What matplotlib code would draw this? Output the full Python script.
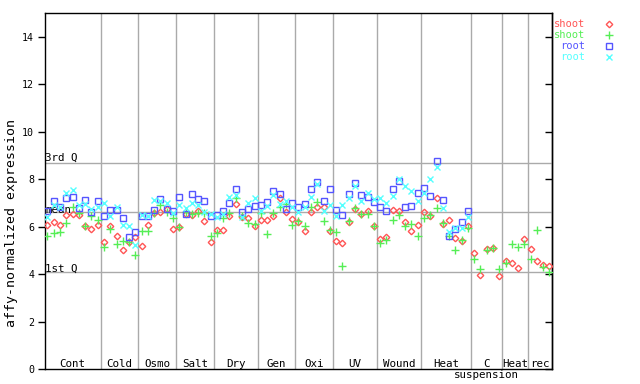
import numpy as np
import matplotlib
matplotlib.use("Agg")
import matplotlib.pyplot as plt
from matplotlib.lines import Line2D

plt.rcParams['font.family'] = ['DejaVu Sans Mono']

# groups of samples along x
groups = ['Cont', 'Cold', 'Osmo', 'Salt', 'Dry', 'Gen', 'Oxi', 'UV', 'Wound', 'Heat',
          'C\nsuspension', 'Heat', 'rec']
group_sizes = [9, 6, 6, 6, 7, 6, 6, 7, 7, 8, 5, 4, 4]

# shoot replicate 1 (red diamonds)
shoot1 = [6.08, 6.19, 6.08, 6.5, 6.54, 6.5, 6.04, 5.9, 6.08,
          5.37, 6.01, 5.61, 5.02, 5.37, 5.56,
          5.19, 6.08, 6.57, 6.6, 6.74, 5.9,
          5.98, 6.55, 6.5, 6.68, 6.22, 5.37,
          5.87, 5.87, 6.46, 6.97, 6.42, 6.36, 6.04,
          6.29, 6.29, 6.46, 7.22, 6.6, 6.32,
          6.18, 5.83, 6.6, 6.82, 6.82, 5.83,
          5.4, 5.33, 6.18, 6.74, 6.54, 6.68, 6.04,
          5.49, 5.57, 6.69, 6.67, 6.18, 5.8, 6.08,
          6.61, 6.44, 7.19, 6.11, 6.29, 5.52, 5.4, 6.02,
          4.88, 3.95, 5.08, 5.09, 3.91,
          4.56, 4.46, 4.25, 5.49,
          5.05, 4.56, 4.38, 4.35]

# shoot replicate 2 (green plus)
shoot2 = [5.61, 5.73, 5.77, 6.15, 6.85, 6.57, 6.05, 6.45, 6.29,
          5.14, 5.91, 5.28, 5.4, 5.35, 4.81,
          5.8, 5.8, 6.57, 6.92, 6.6, 6.36,
          5.98, 6.6, 6.55, 6.57, 6.57, 5.59,
          5.73, 6.36, 6.57, 7.2, 6.45, 6.15, 6.12,
          6.57, 5.7, 6.57, 6.82, 6.95, 6.08,
          6.22, 6.01, 6.82, 7.04, 6.22, 5.84,
          5.77, 4.35, 6.22, 6.78, 6.53, 6.53, 6.04,
          5.3, 5.45, 6.27, 6.48, 6.04, 6.11, 5.61,
          6.36, 6.51, 6.78, 6.15, 5.6, 5.02, 5.43, 5.95,
          4.63, 4.21, 5.02, 5.09, 4.21,
          4.46, 5.26, 5.14, 5.26,
          4.63, 5.87, 4.32, 4.11]

nan = np.nan
# root replicate 1 (blue squares)
root1 = [6.67, 7.09, 6.83, 7.22, 7.26, 6.8, 7.12, 6.61, 7.08,
         6.46, 6.71, 6.71, 6.36, 5.56, 5.76,
         6.44, 6.44, 6.69, 7.18, 6.76, 6.68,
         7.25, 6.53, 7.37, 7.18, 7.1, 6.47,
         6.5, 6.68, 7.02, 7.58, 6.61, 6.74, 6.88,
         6.9, 7.06, 7.49, 7.37, 6.74, 6.99,
         6.81, 6.95, 7.58, 7.89, 7.08, 7.58,
         6.7, 6.5, 7.39, 7.84, 7.33, 7.25, 7.04,
         6.82, 6.66, 7.58, 7.94, 6.82, 6.87, 7.42,
         7.63, 7.28, 8.76, 7.11, 5.59, 5.92, 6.19, 6.65] + [nan] * 13

# root replicate 2 (cyan x)
root2 = [6.42, 6.9, 6.85, 7.42, 7.53, 6.9, 6.95, 6.75, 6.85,
         6.99, 6.43, 6.83, 6.08, 6.04, 5.23,
         6.5, 6.45, 7.13, 7.1, 7.02, 6.57,
         6.9, 6.78, 7.0, 6.9, 6.6, 6.55,
         6.4, 6.55, 7.27, 7.35, 6.4, 6.98, 7.22,
         6.65, 6.88, 7.35, 6.94, 7.1, 6.81,
         6.6, 6.85, 7.25, 7.8, 6.68, 6.92,
         6.43, 6.9, 7.2, 7.72, 7.1, 7.42, 7.16,
         7.2, 7.02, 7.3, 8.0, 7.72, 7.49, 7.08,
         7.4, 8.0, 8.51, 6.78, 5.79, 5.95, 5.94, 6.4] + [nan] * 13

q3_val = 8.69
mean_val = 6.61
q1_val = 4.08

red = '#ff5555'
green = '#55ee55'
blue = '#5555ff'
cyan = '#55ffff'
grey = '#aaaaaa'

n = sum(group_sizes)
x = np.arange(n)

fig = plt.figure(figsize=(6.4, 3.84), dpi=100)
ax = fig.add_axes([0.0698, 0.039, 0.7932, 0.9266])

# group separators and labels
edges = np.cumsum([0] + group_sizes) - 0.5
for e in edges[1:-1]:
    ax.axvline(e, color=grey, lw=1, zorder=1)
for g, a, b in zip(groups, edges[:-1], edges[1:]):
    for k, line in enumerate(g.split('\n')):
        ax.annotate(line, xy=((a + b) / 2, 0), xytext=(0, 1.5 - 8 * k),
                    textcoords='offset points', ha='center', va='baseline',
                    fontsize=7.8, annotation_clip=False)

# summary lines
for val, lab, off in [(q3_val, '3rd Q', 1.2), (mean_val, 'mean', -0.5), (q1_val, '1st Q', 0.5)]:
    ax.axhline(val, color=grey, lw=1, zorder=1)
    ax.annotate(lab, xy=(-0.45, val), xytext=(0.5, off), textcoords='offset points',
                ha='left', va='baseline', fontsize=7.8)

ms = dict(linestyle='none', zorder=3)
ax.plot(x, shoot1, marker='D', ms=3.3, mfc='none', mec=red, mew=1, **ms)
ax.plot(x, shoot2, marker='+', ms=5.5, mec=green, mew=1, **ms)
ax.plot(x, root1, marker='s', ms=3.8, mfc='none', mec=blue, mew=1, **ms)
ax.plot(x, root2, marker='x', ms=4, mec=cyan, mew=1, **ms)

ax.set_xlim(-0.45, n - 0.55)
ax.set_ylim(0, 15)
ax.set_xticks([])
ax.set_yticks(np.arange(0, 15, 2))
ax.tick_params(axis='y', direction='out', length=5, width=1, labelsize=7.2, pad=2.5)
sec = ax.secondary_yaxis('right')
sec.set_yticks(np.arange(0, 15, 2))
sec.tick_params(direction='in', length=5, width=1, labelright=False)
for s in list(ax.spines.values()) + list(sec.spines.values()):
    s.set_linewidth(1)

fig.text(0.018, 0.418, 'affy-normalized expression', rotation=90,
         ha='center', va='center', fontsize=9.5)

# legend
leg = [('shoot', red, 'D', 3.3), ('shoot', green, '+', 5.5),
       ('root', blue, 's', 3.8), ('root', cyan, 'x', 4)]
for k, (lab, c, m, s) in enumerate(leg):
    yy = 1 - (24 + 11 * k) / 384
    fig.text(585 / 640, yy, lab, color=c, ha='right', va='center', fontsize=7.5)
    mfc = 'none' if m in ('D', 's') else c
    fig.add_artist(Line2D([609 / 640], [yy], marker=m, ms=s, mfc=mfc, mec=c, mew=1,
                          linestyle='none', transform=fig.transFigure))

fig.savefig('out.png', dpi=100)
